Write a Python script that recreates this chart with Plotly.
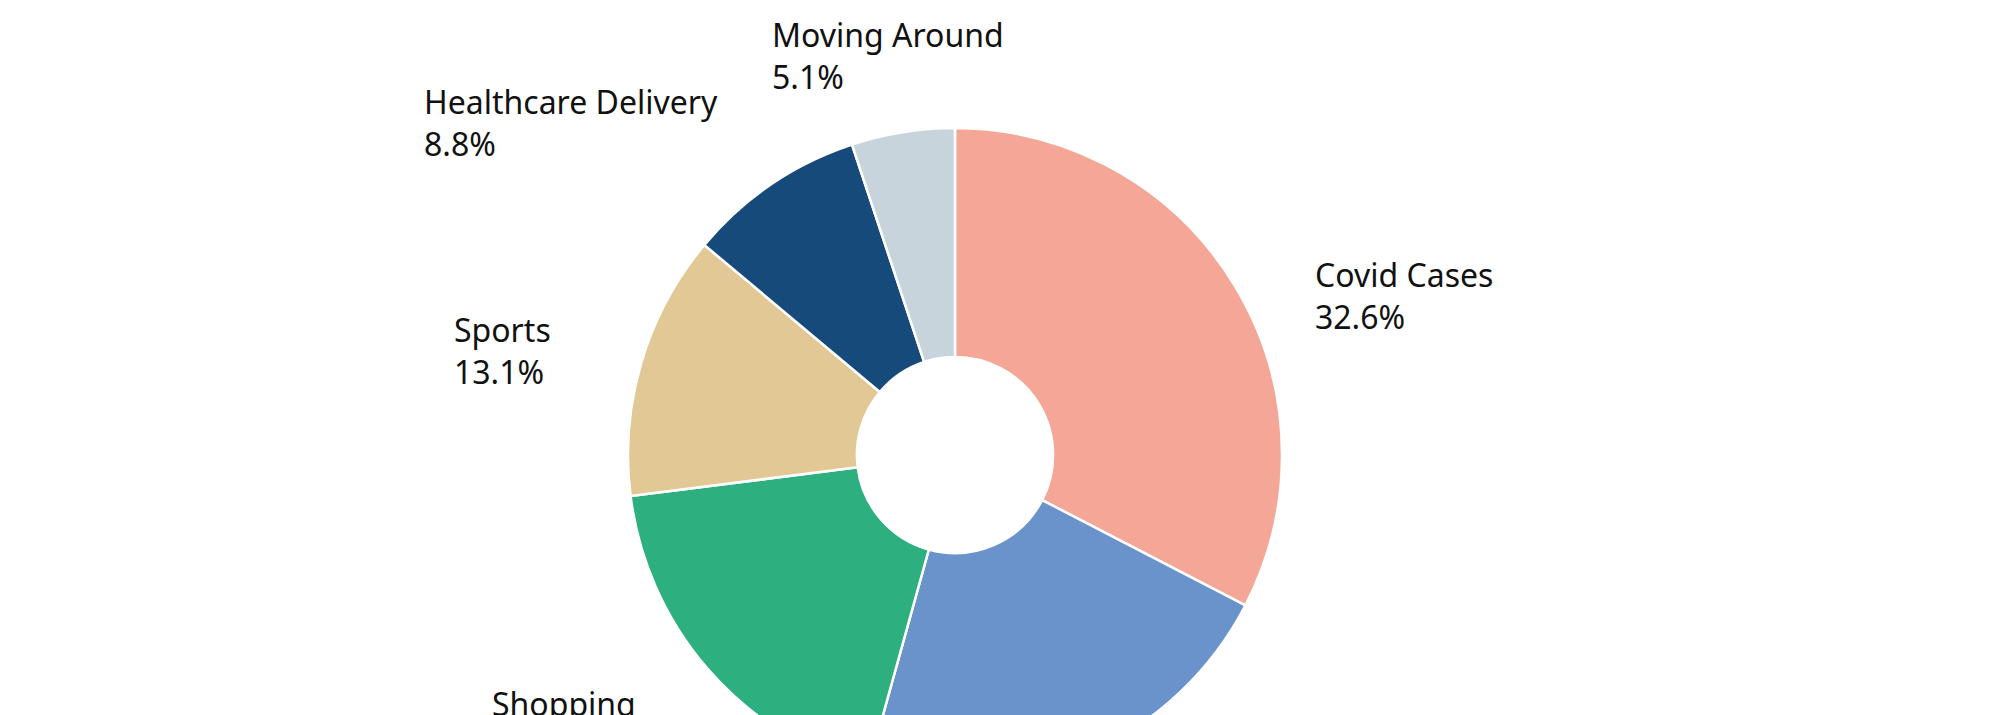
import numpy as np
import plotly.graph_objects as go

labels = ["Covid Cases", "Work", "Shopping", "Sports", "Healthcare Delivery", "Moving Around"]
values = [32.6, 21.7, 18.7, 13.1, 8.8, 5.1]
colors = ["#F4A797", "#6A93CC", "#2EAF80", "#E1C894", "#164A7B", "#C7D4DB"]

W, H = 2000, 910
cx, cy, r = 955, 455, 327

fig = go.Figure(go.Pie(
    labels=labels, values=values, sort=False, direction="clockwise", rotation=0,
    hole=0.3, textinfo="none", hoverinfo="label+percent",
    marker=dict(colors=colors, line=dict(color="white", width=2.5)),
    domain=dict(x=[(cx - r) / W, (cx + r) / W], y=[(H - cy - r) / H, (H - cy + r) / H]),
    showlegend=False,
))

vals = np.array(values)
pct = vals / vals.sum() * 100
cum = np.cumsum(vals) / vals.sum()
mid = (cum - vals / vals.sum() / 2) * 2 * np.pi
R = 1.28 * r
for lab, p, th in zip(labels, pct, mid):
    px = cx + R * np.sin(th)
    py = cy - R * np.cos(th)
    s, c = np.sin(th), np.cos(th)
    xa = "center" if abs(s) < 0.3 else ("left" if s > 0 else "right")
    ya = "top" if (s > 0.3 and c > 0) else "middle"
    fig.add_annotation(
        x=px / W, y=1 - py / H, xref="paper", yref="paper",
        text=f"{lab}<br>{p:.1f}%", showarrow=False, align="left",
        xanchor=xa, yanchor=ya, yshift=-14 if c > 0 else 4,
        font=dict(family="Noto Sans, Open Sans, sans-serif", size=32, color="#111111"),
    )

fig.update_layout(
    width=W, height=H, margin=dict(l=0, r=0, t=0, b=0),
    paper_bgcolor="white", plot_bgcolor="white",
)

fig.write_html("out.html", config={"displayModeBar": False},
               post_script="document.body.style.margin='0';document.body.style.overflow='hidden';")
